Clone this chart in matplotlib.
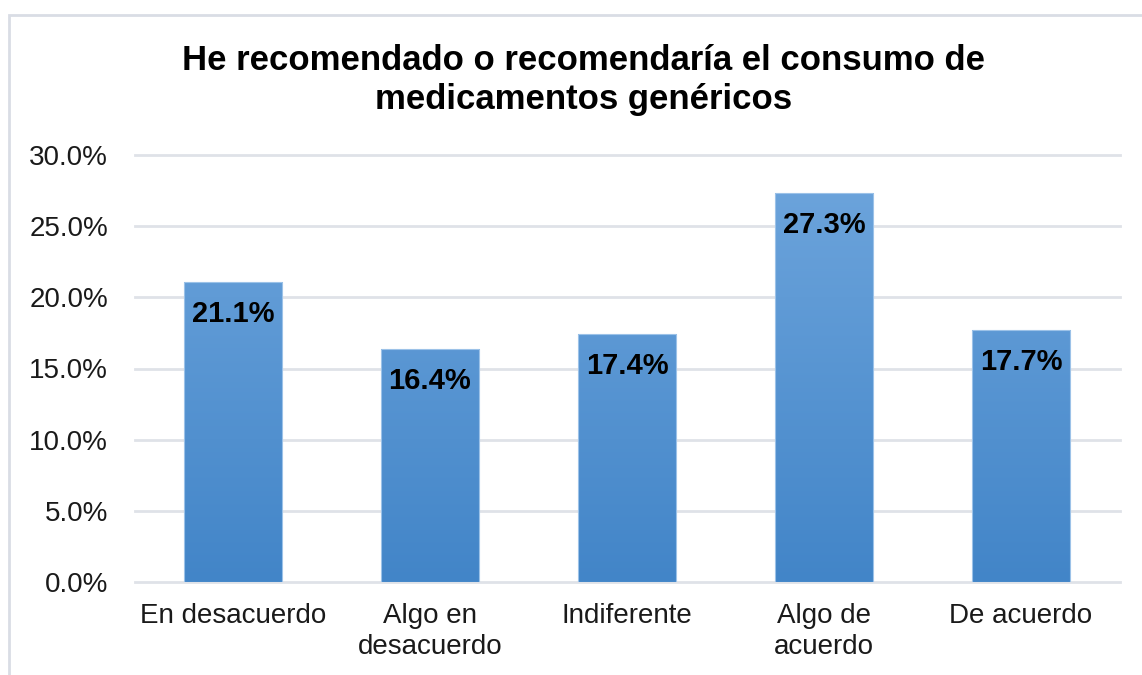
import numpy as np
import matplotlib
matplotlib.use("Agg")
import matplotlib.pyplot as plt
from matplotlib.patches import Rectangle
from matplotlib.colors import LinearSegmentedColormap
from matplotlib.ticker import FuncFormatter

plt.rcParams['font.family'] = ['Liberation Sans', 'DejaVu Sans']

categories = ['En desacuerdo', 'Algo en\ndesacuerdo', 'Indiferente', 'Algo de\nacuerdo', 'De acuerdo']
values = [0.211, 0.164, 0.174, 0.273, 0.177]
labels = ['21.1%', '16.4%', '17.4%', '27.3%', '17.7%']
title = 'He recomendado o recomendaría el consumo de\nmedicamentos genéricos'

fig = plt.figure(figsize=(11.42, 6.75), dpi=100)
# chart border
fig.patches.append(Rectangle((9 / 1142, -0.05), 1.2, (675 - 15) / 675 + 0.05,
                             transform=fig.transFigure, fill=False,
                             edgecolor='#d9dde5', linewidth=2))

ax = fig.add_axes([134.5 / 1142, (675 - 582) / 675, 985 / 1142, 427 / 675])
x = np.arange(len(values))
bars = ax.bar(x, values, width=0.5, color='none', edgecolor='#9cc2e8', linewidth=0.8, zorder=3)

cmap = LinearSegmentedColormap.from_list('g', ['#4285c8', '#6fa6dd'])
grad = np.linspace(0, 1, 256).reshape(-1, 1)
for b in bars:
    im = ax.imshow(grad, cmap=cmap, origin='lower', aspect='auto', zorder=2,
                   extent=[b.get_x(), b.get_x() + b.get_width(), 0, 0.3])
    im.set_clip_path(b)

for xi, v, t in zip(x, values, labels):
    ax.annotate(t, (xi, v), xytext=(0, -23), textcoords='offset points',
                ha='center', va='center', fontsize=21, fontweight='bold', zorder=4)

ax.set_xlim(-0.5, len(values) - 0.5)
ax.set_ylim(0, 0.3)
ax.set_yticks(np.arange(0, 0.301, 0.05))
ax.yaxis.set_major_formatter(FuncFormatter(lambda v, p: f'{v * 100:.1f}%'))
ax.set_xticks(x)
ax.set_xticklabels(categories, fontsize=20, linespacing=1.25)
ax.tick_params(axis='y', labelsize=20, length=0, pad=19)
ax.tick_params(axis='x', length=0, pad=15)
for lbl in ax.get_yticklabels() + ax.get_xticklabels():
    lbl.set_color('#1a1a1a')
ax.grid(axis='y', color='#dfe2e8', linewidth=2, zorder=0)
for line in ax.get_ygridlines():
    line.set_clip_on(False)
for s in ax.spines.values():
    s.set_visible(False)
ax.set_axisbelow(True)

fig.text(584 / 1142, (675 - 80) / 675, title, ha='center', va='center', fontsize=25,
         fontweight='bold', linespacing=1.2)

fig.savefig('out.png', dpi=100)
